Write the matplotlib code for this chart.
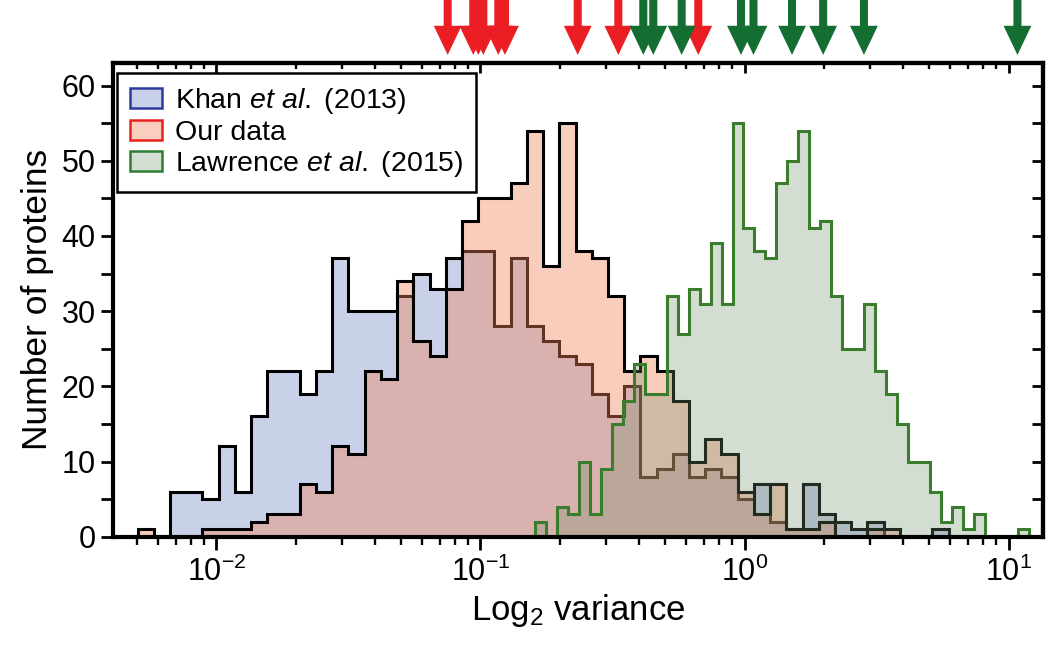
import numpy as np
import matplotlib
matplotlib.use("Agg")
import matplotlib.pyplot as plt
import matplotlib.transforms as mtransforms
from matplotlib.patches import Patch
from matplotlib.ticker import LogLocator, MultipleLocator, NullFormatter

plt.rcParams['font.family'] = ['Liberation Sans', 'DejaVu Sans']
plt.rcParams['mathtext.fontset'] = 'custom'
plt.rcParams['mathtext.rm'] = 'Liberation Sans'
plt.rcParams['mathtext.it'] = 'Liberation Sans:italic'
plt.rcParams['mathtext.bf'] = 'Liberation Sans:bold'

# ---------------- data ----------------
# Khan et al. and our data share one set of log-spaced bins
shared_log_start = -2.299      # log10 of the first bin edge
shared_log_width = 0.06144     # bin width in decades
khan_counts = [0, 0, 6, 6, 5, 12, 6, 16, 22, 22, 19, 22, 37, 30, 30, 30, 32, 35, 33, 37,
               38, 38, 28, 37, 28, 26, 24, 23, 19, 16, 20, 8, 9, 11, 8, 9, 8, 5, 7, 2,
               1, 7, 3, 2, 1, 2, 0, 0, 0, 1]
our_counts = [1, 0, 0, 0, 1, 1, 1, 2, 3, 3, 7, 6, 12, 11, 22, 21, 34, 26, 24, 33,
              42, 45, 45, 47, 54, 36, 55, 38, 37, 32, 22, 24, 22, 18, 10, 13, 11, 6, 3, 7,
              1, 1, 2, 0, 0, 1, 1, 0, 0, 0]
# Lawrence et al. (own bins)
lawrence_log_start = -1.002
lawrence_log_width = 0.04159
lawrence_counts = [0, 0, 0, 0, 0, 2, 0, 4, 3, 10, 3, 9, 15, 18, 23, 19, 19, 32, 27, 33,
                   31, 39, 31, 55, 41, 38, 37, 47, 50, 54, 41, 42, 32, 25, 25, 31, 22, 19, 15, 10,
                   10, 6, 2, 4, 1, 3, 0, 0, 0, 1]
# arrows above the plot (log2 variance of highlighted proteins)
our_arrows = [0.0751, 0.0939, 0.0981, 0.1025, 0.1168, 0.1238, 0.2335, 0.3327, 0.6683]
lawrence_arrows = [0.4137, 0.4513, 0.5781, 0.9698, 1.0815, 1.5136, 1.986, 2.834, 10.81]

legend_labels = [r'Khan $\mathit{et\ al.}\ \mathrm{(2013)}$', 'Our data',
                 r'Lawrence $\mathit{et\ al.}\ \mathrm{(2015)}$']

shared_edges = 10 ** (shared_log_start + shared_log_width * np.arange(len(khan_counts) + 1))
lawrence_edges = 10 ** (lawrence_log_start + lawrence_log_width * np.arange(len(lawrence_counts) + 1))

# ---------------- figure ----------------
fig = plt.figure(figsize=(10.5, 6.47), dpi=100)
ax = fig.add_axes([113 / 1050, 1 - 536.7 / 647, 930 / 1050, 473.7 / 647])

khan_face = (120 / 255, 140 / 255, 202 / 255)
our_face = (242 / 255, 130 / 255, 88 / 255)
law_face = (115 / 255, 145 / 255, 108 / 255)
law_edge = '#3a7d2c'
lw_hist = 2.2

ax.stairs(khan_counts, shared_edges, fill=True, facecolor=khan_face, alpha=0.4, edgecolor='none', zorder=1)
ax.stairs(khan_counts, shared_edges, fill=False, edgecolor='black', linewidth=lw_hist, zorder=1.1)
ax.stairs(our_counts, shared_edges, fill=True, facecolor=our_face, alpha=0.4, edgecolor='none', zorder=1.2)
ax.stairs(our_counts, shared_edges, fill=False, edgecolor='black', linewidth=lw_hist, zorder=1.3)
ax.stairs(lawrence_counts, lawrence_edges, fill=True, facecolor=law_face, alpha=0.3, edgecolor='none', zorder=1.4)
ax.stairs(lawrence_counts, lawrence_edges, fill=False, edgecolor=law_edge, linewidth=lw_hist, zorder=1.5)

ax.set_xscale('log')
ax.set_xlim(0.004055, 13.51)
ax.set_ylim(0, 63)

ax.xaxis.set_major_locator(LogLocator(base=10, numticks=10))
ax.xaxis.set_minor_locator(LogLocator(base=10, subs=np.arange(2, 10), numticks=40))
ax.xaxis.set_minor_formatter(NullFormatter())
ax.yaxis.set_major_locator(MultipleLocator(10))
ax.yaxis.set_minor_locator(MultipleLocator(5))

ax.tick_params(axis='x', which='major', direction='out', length=9.4, width=2.0,
               labelsize=22, pad=5, top=False)
ax.tick_params(axis='x', which='minor', direction='out', length=5.8, width=1.7, top=False)
ax.tick_params(axis='y', which='both', direction='out', length=8.6, width=2.0,
               labelsize=22, pad=4, right=False)

for sp in ax.spines.values():
    sp.set_linewidth(3)

secx = ax.secondary_xaxis('top')
secx.tick_params(axis='x', which='major', direction='in', length=7.5, width=2.0,
                 labeltop=False, labelbottom=False)
secx.tick_params(axis='x', which='minor', direction='in', length=4.5, width=1.7,
                 labeltop=False, labelbottom=False)
secx.spines['top'].set_linewidth(3)

secy = ax.secondary_yaxis('right')
secy.yaxis.set_major_locator(MultipleLocator(10))
secy.yaxis.set_minor_locator(MultipleLocator(5))
secy.tick_params(axis='y', which='both', direction='in', length=8, width=2.0,
                 labelright=False, labelleft=False)
secy.spines['right'].set_linewidth(3)

ax.set_xlabel(r'Log$_2$ variance', fontsize=25, labelpad=3)
ax.set_ylabel('Number of proteins', fontsize=25.5, labelpad=5)

# arrows above the axes
trans = mtransforms.blended_transform_factory(ax.transData, ax.transAxes)
arrow_style = "simple,head_length=21,head_width=20,tail_width=5.8"
for xv in our_arrows:
    ax.annotate('', xy=(xv, 1.017), xytext=(xv, 1.14), xycoords=trans, textcoords=trans,
                annotation_clip=False,
                arrowprops=dict(arrowstyle=arrow_style, mutation_scale=1, color='#eb1e23',
                                shrinkA=0, shrinkB=0, linewidth=0))
for xv in lawrence_arrows:
    ax.annotate('', xy=(xv, 1.017), xytext=(xv, 1.14), xycoords=trans, textcoords=trans,
                annotation_clip=False,
                arrowprops=dict(arrowstyle=arrow_style, mutation_scale=1, color='#146e32',
                                shrinkA=0, shrinkB=0, linewidth=0))

handles = [
    Patch(facecolor=(200 / 255, 208 / 255, 234 / 255), edgecolor='#2b3a9b', linewidth=1.8),
    Patch(facecolor=(250 / 255, 206 / 255, 190 / 255), edgecolor='#e8221d', linewidth=1.8),
    Patch(facecolor=(213 / 255, 222 / 255, 211 / 255), edgecolor='#2e7d32', linewidth=1.8),
]
leg = ax.legend(handles, legend_labels, loc='upper left', bbox_to_anchor=(0.004, 0.978),
                borderaxespad=0, fontsize=20.5, frameon=True, fancybox=False,
                handlelength=1.15, handleheight=0.7, handletextpad=0.45,
                borderpad=0.45, labelspacing=0.12)
leg.get_frame().set_edgecolor('black')
leg.get_frame().set_linewidth(1.8)
leg.get_frame().set_alpha(1)
leg.set_zorder(5)

fig.savefig('out.png', dpi=100)
